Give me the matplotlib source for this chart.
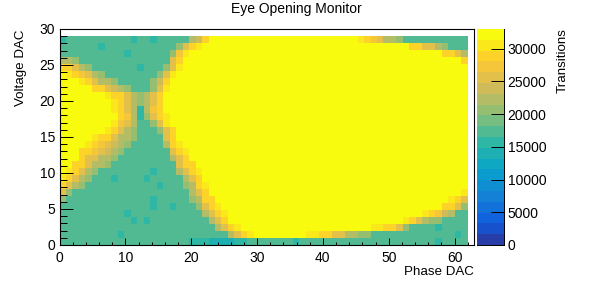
import numpy as np
import matplotlib
matplotlib.use('Agg')
import matplotlib.pyplot as plt
from matplotlib.colors import LinearSegmentedColormap, ListedColormap, BoundaryNorm
from matplotlib.ticker import MultipleLocator

plt.rcParams['font.family'] = ['Liberation Sans', 'DejaVu Sans']

# transitions per level code
levels = {'Y': 32000, '8': 30500, '7': 28900, '6': 27200, '5': 25500, '4': 23900,
          '3': 22300, '2': 20600, '1': 19000, 'g': 17300, 's': 15700, 't': 14000}

# one string per voltage bin, top row first, "g*10" means ten bins in a row
rows = [
    "s g*10 s g*2 s g*5 3 4 7 Y*23 8 7 6 5 3 3 2 g*10",
    "g*6 s g*11 2 5 7 8 Y*32 7 7 5 5 3 2 g*3",
    "g*10 s g*6 2 6 8 Y*39 7 7 5 3",
    "3 3 2 g*14 5 7 Y*43 7",
    "7 7 5 3 2 g*7 s g*3 2 5 8 Y*44",
    "Y 8 7 6 5 3 2 g*8 2 5 8 Y*45",
    "Y*3 8 7 5 3 3 2 g*5 2 4 7 Y*46",
    "Y*5 7 7 5 4 3 2 g*3 2 5 8 Y*46",
    "Y*7 8 7 7 5 3 2 3 5 7 Y*47",
    "Y*8 8 7 5 3 2 3 5 7 Y*47",
    "Y*8 8 7 5 3 s 3 6 7 Y*47",
    "Y*9 7 6 3 s 2 5 7 8 Y*46",
    "Y*8 8 6 5 3 g g 2 5 8 Y*46",
    "Y*7 8 7 5 3 2 g*3 2 5 7 Y*45",
    "Y*5 8 7 7 5 3 3 2 g*4 5 7 Y*45",
    "Y*4 8 7 6 5 4 3 2 g*5 3 7 8 Y*44",
    "Y*3 7 7 6 5 4 3 2 g*7 5 7 8 Y*43",
    "Y*3 7 5 5 3 3 2 g*8 3 5 7 Y*43",
    "Y*2 7 7 5 3 3 2 g*10 5 7 7 Y*42",
    "Y 8 7 5 3 2 g*8 s g*3 3 5 7 8 Y*41",
    "8 7 5 3 2 g*3 s g*4 s g*5 3 5 7 Y*41",
    "7 5 3 2 g*11 s g*3 2 3 7 8 Y*40",
    "5 2 g*18 3 5 7 Y*39 8",
    "2 g*13 s g*5 2 3 7 7 Y*36 8 7 5",
    "g*14 s g*2 s g*3 2 5 7 8 Y*34 7 7 5 2",
    "g*10 s g*11 3 5 7 8 Y*30 8 7 6 4 3 g*2",
    "g*11 s g s g*9 3 5 7 Y*27 8 7 5 3 2 2 g*4",
    "g*24 3 5 7 8 Y*20 8 8 7 7 5 2 g*4 s g*4",
    "g*9 s g*16 3 5 7 8 Y*8 8 8 7 7 5 5 3 3 2 2 g*13 s g",
    "g*20 s*3 t*4 s*2 g*7 s g*21 s g*4",
]
cbar_ticks = [0, 5000, 10000, 15000, 20000, 25000, 30000]

# ROOT bird palette
bird = [(0.2082, 0.1664, 0.5293), (0.0592, 0.3599, 0.8684), (0.0780, 0.5041, 0.8385),
        (0.0232, 0.6419, 0.7914), (0.1802, 0.7178, 0.6425), (0.5301, 0.7492, 0.4662),
        (0.8186, 0.7328, 0.3499), (0.9956, 0.7862, 0.1968), (0.9764, 0.9832, 0.0539)]


def decode(row):
    out = []
    for tok in row.split():
        code, _, n = tok.partition('*')
        out += [levels[code]] * int(n or 1)
    return out


grid = np.array([decode(r) for r in rows][::-1])
W, H = 593.0, 289.0

fig = plt.figure(figsize=(5.93, 2.89), dpi=100)
ax = fig.add_axes([59.5 / W, 1 - 245 / H, (474.3 - 59.5) / W, 216 / H])
cax = fig.add_axes([477 / W, 1 - 245 / H, 26.5 / W, 216 / H])

# 20 contours, ROOT picks the colour near the top of each band
full = LinearSegmentedColormap.from_list('bird', bird, N=256)
cmap = ListedColormap([full((i + 0.99) / 20) for i in range(20)])
norm = BoundaryNorm(np.linspace(0, 33000, 21), 20)
mesh = ax.pcolormesh(np.linspace(0, 62, 64), np.linspace(0, 29, 31), grid,
                     cmap=cmap, norm=norm, linewidth=0, rasterized=True)
ax.set_xlim(0, 63)
ax.set_ylim(0, 30)

ax.xaxis.set_major_locator(MultipleLocator(10))
ax.xaxis.set_minor_locator(MultipleLocator(2))
ax.yaxis.set_major_locator(MultipleLocator(5))
ax.yaxis.set_minor_locator(MultipleLocator(1))
ax.tick_params(axis='x', which='major', direction='in', length=5, width=0.7, labelsize=10, pad=4)
ax.tick_params(axis='x', which='minor', direction='in', length=2.5, width=0.7)
ax.tick_params(axis='y', which='major', direction='in', length=9.4, width=0.7, labelsize=10, pad=3)
ax.tick_params(axis='y', which='minor', direction='in', length=4.7, width=0.7)
for s in ax.spines.values():
    s.set_linewidth(0.8)

cb = fig.colorbar(mesh, cax=cax, spacing='proportional', ticks=cbar_ticks)
cb.minorticks_off()
cb.outline.set_visible(False)
cax.spines['right'].set_visible(True)
cax.spines['right'].set_linewidth(0.7)
cax.spines['bottom'].set_visible(True)
cax.spines['bottom'].set_linewidth(0.7)
cax.tick_params(axis='y', which='major', direction='in', length=9.4, width=0.7, labelsize=10, pad=3)

fig.text(296 / W, 1 - 9 / H, 'Eye Opening Monitor', ha='center', va='center', fontsize=10)
fig.text(474 / W, 1 - 272 / H, 'Phase DAC', ha='right', va='center', fontsize=9.6)
fig.text(21 / W, 1 - 29 / H, 'Voltage DAC', ha='center', va='top', rotation=90, fontsize=9.6)
fig.text(563 / W, 1 - 28 / H, 'Transitions', ha='center', va='top', rotation=90, fontsize=9.6)

fig.savefig('out.png', dpi=100)
